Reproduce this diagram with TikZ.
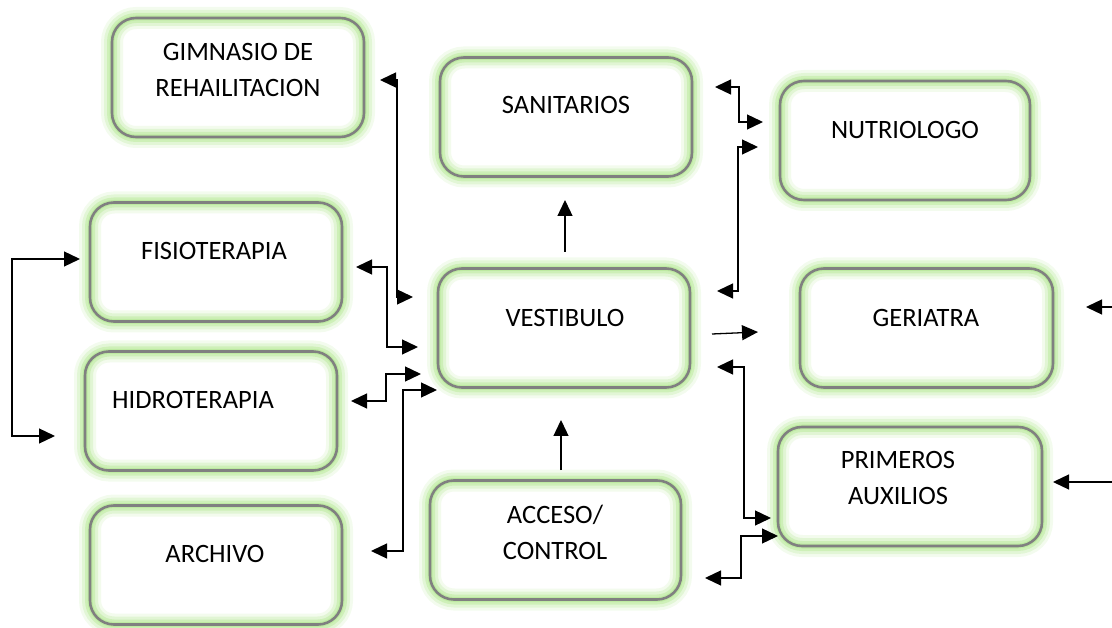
\documentclass[tikz,border=0pt]{standalone}
\usepackage{fontspec}
\setmainfont{Carlito}
\usetikzlibrary{arrows.meta}
\definecolor{bordergray}{RGB}{128,128,128}
\definecolor{glowgreen}{RGB}{175,230,140}
\tikzset{
  box/.style={draw=bordergray, line width=2.6pt, rounded corners=24pt,
    minimum width=#1, minimum height=119pt, inner sep=0pt,
    preaction={fill=white},
    preaction={draw=glowgreen, line width=22pt, draw opacity=0.15},
    preaction={draw=glowgreen, line width=16pt, draw opacity=0.25},
    preaction={draw=glowgreen, line width=10pt, draw opacity=0.4},
    preaction={draw=glowgreen, line width=5pt, draw opacity=0.5}},
  box/.default=252pt,
  txt/.style={font=\fontsize{26.5}{36}\selectfont, align=center, inner sep=0pt},
  con/.style={line width=1.3pt, -{Triangle[length=16pt,width=15pt]}},
  con2/.style={line width=1.3pt, {Triangle[length=16pt,width=15pt]}-{Triangle[length=16pt,width=15pt]}}
}
\begin{document}
\begin{tikzpicture}[x=1pt,y=-1pt]
\useasboundingbox (0,0) rectangle (1112,628);
% boxes
\node[box] (gim) at (238,77.5) {};
\node[box] (san) at (566,117) {};
\node[box=250pt] (nut) at (905,140.5) {};
\node[box] (fis) at (216,262) {};
\node[box] (hid) at (211,411) {};
\node[box] (arc) at (216,565) {};
\node[box] (ves) at (564,328) {};
\node[box=253pt] (ger) at (926.5,328) {};
\node[box=264pt] (pri) at (910,486.5) {};
\node[box=251pt] (acc) at (555.5,540) {};
% texts
\node[txt] (gimt) at (238,70) {GIMNASIO DE\\REHAILITACION};
\node[txt] (sant) at (566,105) {SANITARIOS};
\node[txt] (nutt) at (905,130) {NUTRIOLOGO};
\node[txt] (fist) at (214,251) {FISIOTERAPIA};
\node[txt] (hidt) at (193,400) {HIDROTERAPIA};
\node[txt] (arct) at (215,554) {ARCHIVO};
\node[txt] (vest) at (565,318) {VESTIBULO};
\node[txt] (gert) at (926,318) {GERIATRA};
\node[txt] (prit) at (898,478) {PRIMEROS\\AUXILIOS};
\node[txt] (acct) at (555,532) {ACCESO/\\CONTROL};
% connector end points
\coordinate (a1) at (380,80);   \coordinate (a2) at (413,297);
\coordinate (b1) at (356,267);  \coordinate (b2) at (418,347);
\coordinate (c1) at (351,401);  \coordinate (c2) at (421,374);
\coordinate (d1) at (371,551);  \coordinate (d2) at (437,390);
\coordinate (e1) at (80,259);   \coordinate (e2) at (55,436);
\coordinate (f1) at (565,252);  \coordinate (f2) at (565,200);
\coordinate (g1) at (561,470);  \coordinate (g2) at (561,420);
\coordinate (h1) at (715,87);   \coordinate (h2) at (763,122);
\coordinate (i1) at (717,291);  \coordinate (i2) at (758,147);
\coordinate (j1) at (712,334);  \coordinate (j2) at (758,332);
\coordinate (k1) at (717,367);  \coordinate (k2) at (771,518);
\coordinate (l1) at (705,578);  \coordinate (l2) at (778,536);
\coordinate (m1) at (1112,307); \coordinate (m2) at (1086,307);
\coordinate (n1) at (1112,482); \coordinate (n2) at (1053,482);
% connectors
\draw[con2] (a1) -- (397,80) -- (397,297) -- (a2);
\draw[con2] (b1) -- (387,267) -- (387,347) -- (b2);
\draw[con2] (c1) -- (386,401) -- (386,374) -- (c2);
\draw[con2] (d1) -- (403,551) -- (403,390) -- (d2);
\draw[con2] (e1) -- (12,259) -- (12,436) -- (e2);
\draw[con] (f1) -- (f2);
\draw[con] (g1) -- (g2);
\draw[con2] (h1) -- (739,87) -- (739,122) -- (h2);
\draw[con2] (i1) -- (738,291) -- (738,147) -- (i2);
\draw[con] (j1) -- (j2);
\draw[con2] (k1) -- (744,367) -- (744,518) -- (k2);
\draw[con2] (l1) -- (741,578) -- (741,536) -- (l2);
\draw[con] (m1) -- (m2);
\draw[con] (n1) -- (n2);
\end{tikzpicture}
\end{document}
